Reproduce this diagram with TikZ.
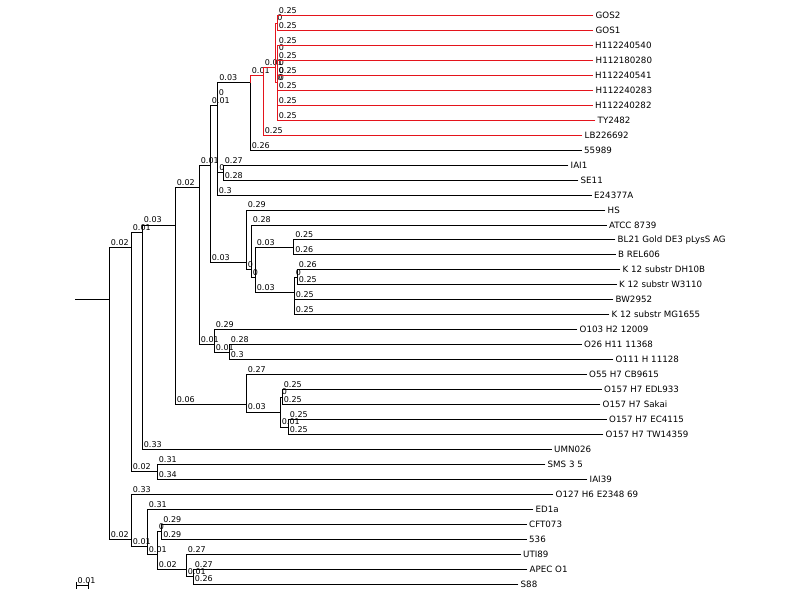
\documentclass[tikz,border=0pt]{standalone}
\usepackage{fontspec}
\setmainfont{DejaVu Sans}
\usepackage{tikz}
\definecolor{cladered}{RGB}{228,20,28}

\begin{document}
\begin{tikzpicture}[x=1pt, y=-14.96pt,
	branch/.style={line width=0.8pt, line cap=rect},
	red branch/.style={branch, draw=cladered},
	len/.style={anchor=south west, inner sep=1.5pt, font=\fontsize{8}{9}\selectfont},
	leaf/.style={anchor=west, inner sep=2.5pt, text height=6.2pt, text depth=0pt, font=\fontsize{8.7}{10}\selectfont}]
	
	\useasboundingbox (0,-1.036) rectangle (800,39.07);
	
	\coordinate (stub) at (75,19);
	\coordinate (root) at (109,19);
	\coordinate (a) at (131,15.5);
	\coordinate (b) at (131,35);
	\coordinate (a1) at (142,14.5);
	\coordinate (a2) at (157,30.5);
	\coordinate (a1a) at (175,14);
	\coordinate (b1) at (199,11.5);
	\coordinate (b2) at (246,26);
	\coordinate (d1) at (210,10);
	\coordinate (d2) at (214,22);
	\coordinate (d3) at (229,22.5);
	\coordinate (g) at (217,6);
	\coordinate (g2) at (217.5,5.5);
	\coordinate (h1) at (223,10.5);
	\coordinate (r0) at (250,4.5);
	\coordinate (r1) at (263,4);
	\coordinate (r2) at (275.5,3.5);
	\coordinate (p01) at (277,0.5);
	\coordinate (s27) at (277,4.5);
	\coordinate (t26) at (277,4);
	\coordinate (u25) at (277,3.5);
	\coordinate (p23) at (277,2.5);
	\coordinate (p45) at (277,4.5);
	\coordinate (k) at (246,16.5);
	\coordinate (k1) at (251,17);
	\coordinate (k2) at (255,17.5);
	\coordinate (l1) at (293.5,15.5);
	\coordinate (l2) at (294,18.5);
	\coordinate (l3) at (297,17.5);
	\coordinate (c) at (280,26.5);
	\coordinate (c1) at (282,25.5);
	\coordinate (c2) at (288,27.5);
	\coordinate (b3) at (147,35.5);
	\coordinate (b4) at (157,36);
	\coordinate (b5) at (161.5,34.5);
	\coordinate (b6) at (186,37);
	\coordinate (b7) at (193,37.5);
	
	\node[leaf] (gos2) at (593,0) {GOS2};
	\node[leaf] (gos1) at (593,1) {GOS1};
	\node[leaf] (h540) at (592.5,2) {H112240540};
	\node[leaf] (h280) at (593,3) {H112180280};
	\node[leaf] (h541) at (592.5,4) {H112240541};
	\node[leaf] (h283) at (593,5) {H112240283};
	\node[leaf] (h282) at (592.5,6) {H112240282};
	\node[leaf] (ty2482) at (595,7) {TY2482};
	\node[leaf] (lb226692) at (582,8) {LB226692};
	\node[leaf] (s55989) at (581.5,9) {55989};
	\node[leaf] (iai1) at (568,10) {IAI1};
	\node[leaf] (se11) at (578,11) {SE11};
	\node[leaf] (e24377a) at (591.5,12) {E24377A};
	\node[leaf] (hs) at (605,13) {HS};
	\node[leaf] (atcc) at (606.5,14) {ATCC 8739};
	\node[leaf] (bl21) at (615,15) {BL21 Gold DE3 pLysS AG};
	\node[leaf] (brel606) at (615.5,16) {B REL606};
	\node[leaf] (dh10b) at (620,17) {K 12 substr DH10B};
	\node[leaf] (w3110) at (616.5,18) {K 12 substr W3110};
	\node[leaf] (bw2952) at (613,19) {BW2952};
	\node[leaf] (mg1655) at (609,20) {K 12 substr MG1655};
	\node[leaf] (o103) at (577,21) {O103 H2 12009};
	\node[leaf] (o26) at (581.5,22) {O26 H11 11368};
	\node[leaf] (o111) at (613,23) {O111 H 11128};
	\node[leaf] (o55) at (586.5,24) {O55 H7 CB9615};
	\node[leaf] (edl933) at (601.5,25) {O157 H7 EDL933};
	\node[leaf] (sakai) at (600,26) {O157 H7 Sakai};
	\node[leaf] (ec4115) at (606.5,27) {O157 H7 EC4115};
	\node[leaf] (tw14359) at (603,28) {O157 H7 TW14359};
	\node[leaf] (umn026) at (551.5,29) {UMN026};
	\node[leaf] (sms) at (545,30) {SMS 3 5};
	\node[leaf] (iai39) at (587,31) {IAI39};
	\node[leaf] (o127) at (553,32) {O127 H6 E2348 69};
	\node[leaf] (ed1a) at (533,33) {ED1a};
	\node[leaf] (cft073) at (526.5,34) {CFT073};
	\node[leaf] (s536) at (526.5,35) {536};
	\node[leaf] (uti89) at (520.5,36) {UTI89};
	\node[leaf] (apec) at (527,37) {APEC O1};
	\node[leaf] (s88) at (518,38) {S88};
	
	\draw[branch] (stub) -- (root);
	\draw[branch] (root) |- node[len] {0.02} (a);
	\draw[branch] (root) |- node[len] {0.02} (b);
	\draw[branch] (a) |- node[len] {0.01} (a1);
	\draw[branch] (a) |- node[len] {0.02} (a2);
	\draw[branch] (a1) |- node[len] {0.03} (a1a);
	\draw[branch] (a1) |- node[len] {0.33} (umn026);
	\draw[branch] (a1a) |- node[len] {0.02} (b1);
	\draw[branch] (a1a) |- node[len] {0.06} (b2);
	\draw[branch] (b1) |- node[len] {0.01} (d1);
	\draw[branch] (b1) |- node[len] {0.01} (d2);
	\draw[branch] (d1) |- node[len] {0.01} (g);
	\draw[branch] (d1) |- node[len] {0.03} (k);
	\draw[branch] (g) |- node[len] {0} (g2);
	\draw[branch] (g) |- node[len] {0.3} (e24377a);
	\draw[branch] (g2) |- node[len] {0.03} (r0);
	\draw[branch] (g2) |- node[len] {0} (h1);
	\draw[branch] (h1) |- node[len] {0.27} (iai1);
	\draw[branch] (h1) |- node[len] {0.28} (se11);
	\draw[branch] (r0) |- node[len] {0.26} (s55989);
	\draw[red branch] (r0) |- node[len] {0.01} (r1);
	\draw[red branch] (r1) |- node[len] {0.01} (r2);
	\draw[red branch] (r1) |- node[len] {0.25} (lb226692);
	\draw[red branch] (r2) |- node[len] {0} (p01);
	\draw[red branch] (r2) |- node[len] {0} (s27);
	\draw[red branch] (p01) |- node[len] {0.25} (gos2);
	\draw[red branch] (p01) |- node[len] {0.25} (gos1);
	\draw[red branch] (s27) |- node[len] {0} (t26);
	\draw[red branch] (s27) |- node[len] {0.25} (ty2482);
	\draw[red branch] (t26) |- node[len] {0} (u25);
	\draw[red branch] (t26) |- node[len] {0.25} (h282);
	\draw[red branch] (u25) |- node[len] {0} (p23);
	\draw[red branch] (u25) |- node[len] {0} (p45);
	\draw[red branch] (p23) |- node[len] {0.25} (h540);
	\draw[red branch] (p23) |- node[len] {0.25} (h280);
	\draw[red branch] (p45) |- node[len] {0.25} (h541);
	\draw[red branch] (p45) |- node[len] {0.25} (h283);
	\draw[branch] (k) |- node[len] {0.29} (hs);
	\draw[branch] (k) |- node[len] {0} (k1);
	\draw[branch] (k1) |- node[len] {0.28} (atcc);
	\draw[branch] (k1) |- node[len] {0} (k2);
	\draw[branch] (k2) |- node[len] {0.03} (l1);
	\draw[branch] (k2) |- node[len] {0.03} (l2);
	\draw[branch] (l1) |- node[len] {0.25} (bl21);
	\draw[branch] (l1) |- node[len] {0.26} (brel606);
	\draw[branch] (l2) |- node[len] {0} (l3);
	\draw[branch] (l2) |- node[len] {0.25} (bw2952);
	\draw[branch] (l2) |- node[len] {0.25} (mg1655);
	\draw[branch] (l3) |- node[len] {0.26} (dh10b);
	\draw[branch] (l3) |- node[len] {0.25} (w3110);
	\draw[branch] (d2) |- node[len] {0.29} (o103);
	\draw[branch] (d2) |- node[len] {0.01} (d3);
	\draw[branch] (d3) |- node[len] {0.28} (o26);
	\draw[branch] (d3) |- node[len] {0.3} (o111);
	\draw[branch] (b2) |- node[len] {0.27} (o55);
	\draw[branch] (b2) |- node[len] {0.03} (c);
	\draw[branch] (c) |- node[len] {0} (c1);
	\draw[branch] (c) |- node[len] {0.01} (c2);
	\draw[branch] (c1) |- node[len] {0.25} (edl933);
	\draw[branch] (c1) |- node[len] {0.25} (sakai);
	\draw[branch] (c2) |- node[len] {0.25} (ec4115);
	\draw[branch] (c2) |- node[len] {0.25} (tw14359);
	\draw[branch] (a2) |- node[len] {0.31} (sms);
	\draw[branch] (a2) |- node[len] {0.34} (iai39);
	\draw[branch] (b) |- node[len] {0.33} (o127);
	\draw[branch] (b) |- node[len] {0.01} (b3);
	\draw[branch] (b3) |- node[len] {0.31} (ed1a);
	\draw[branch] (b3) |- node[len] {0.01} (b4);
	\draw[branch] (b4) |- node[len] {0} (b5);
	\draw[branch] (b4) |- node[len] {0.02} (b6);
	\draw[branch] (b5) |- node[len] {0.29} (cft073);
	\draw[branch] (b5) |- node[len] {0.29} (s536);
	\draw[branch] (b6) |- node[len] {0.27} (uti89);
	\draw[branch] (b6) |- node[len] {0.01} (b7);
	\draw[branch] (b7) |- node[len] {0.27} (apec);
	\draw[branch] (b7) |- node[len] {0.26} (s88);
	
	\coordinate (bar0) at (76,38.11);
	\coordinate (bar1) at (88,38.11);
	\draw[branch] (bar0) -- (bar1);
	\draw[branch] ([yshift=3pt]bar0) -- ([yshift=-3pt]bar0);
	\draw[branch] ([yshift=3pt]bar1) -- ([yshift=-3pt]bar1);
	\node[len] (barlabel) at (bar0) {0.01};
\end{tikzpicture}
\end{document}
